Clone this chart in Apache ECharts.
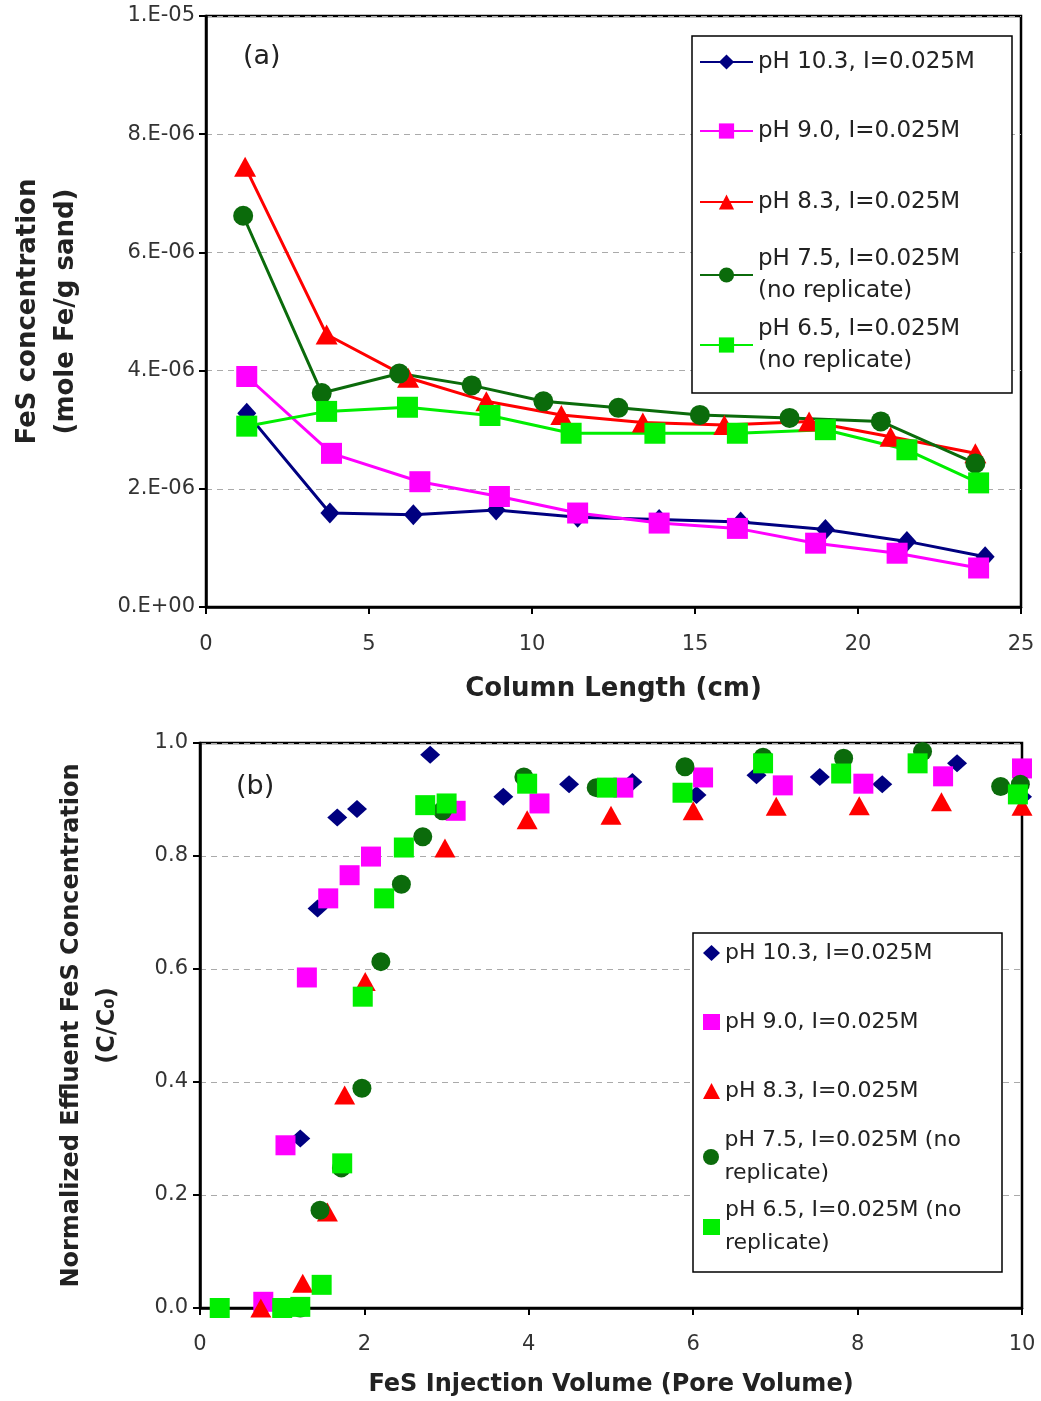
<!DOCTYPE html>
<html>
<head>
<meta charset="utf-8">
<title>FeS column profiles and breakthrough</title>
<script src="https://cdn.jsdelivr.net/npm/echarts@6/dist/echarts.min.js"></script>
<style>
  html, body { margin: 0; padding: 0; background: #fff; }
  #chart { width: 1041px; height: 1401px; }
</style>
</head>
<body>
<div id="chart"></div>
<script>
// ---- panel (a): retained FeS along the column ----
// column length (cm) / FeS concentration (mole Fe/g sand)
const lenPH103 = [1.25, 3.8, 6.36, 8.9, 11.4, 13.9, 16.4, 19.0, 21.5, 23.9]
const fesPH103 = [3.28e-6, 1.59e-6, 1.56e-6, 1.64e-6, 1.52e-6, 1.48e-6, 1.44e-6, 1.31e-6, 1.11e-6, 0.85e-6]
const lenPH90 = [1.25, 3.85, 6.56, 9.0, 11.4, 13.9, 16.3, 18.7, 21.2, 23.7]
const fesPH90 = [3.9e-6, 2.6e-6, 2.12e-6, 1.87e-6, 1.59e-6, 1.42e-6, 1.33e-6, 1.08e-6, 0.91e-6, 0.66e-6]
const lenPH83 = [1.2, 3.7, 6.2, 8.6, 10.9, 13.4, 15.9, 18.5, 21.0, 23.6]
const fesPH83 = [7.45e-6, 4.61e-6, 3.88e-6, 3.48e-6, 3.25e-6, 3.12e-6, 3.08e-6, 3.14e-6, 2.88e-6, 2.6e-6]
const lenPH75 = [1.14, 3.55, 5.93, 8.15, 10.35, 12.65, 15.15, 17.9, 20.7, 23.6]
const fesPH75 = [6.62e-6, 3.62e-6, 3.95e-6, 3.75e-6, 3.48e-6, 3.37e-6, 3.25e-6, 3.2e-6, 3.14e-6, 2.43e-6]
const lenPH65 = [1.25, 3.7, 6.18, 8.71, 11.2, 13.77, 16.3, 19.0, 21.5, 23.7]
const fesPH65 = [3.06e-6, 3.31e-6, 3.38e-6, 3.24e-6, 2.94e-6, 2.94e-6, 2.94e-6, 3.0e-6, 2.66e-6, 2.1e-6]

// ---- panel (b): effluent breakthrough ----
// injected pore volumes / normalized effluent concentration C/C0
const pvPH103 = [0.97, 1.22, 1.43, 1.67, 1.91, 2.8, 3.69, 4.49, 5.26, 6.04, 6.77, 7.54, 8.3, 9.21, 10.0]
const cPH103 = [0.0, 0.3, 0.707, 0.868, 0.883, 0.979, 0.905, 0.927, 0.931, 0.908, 0.943, 0.94, 0.927, 0.964, 0.905]
const pvPH90 = [0.77, 1.04, 1.3, 1.56, 1.82, 2.08, 3.11, 4.13, 5.15, 6.12, 7.09, 8.07, 9.04, 10.0]
const cPH90 = [0.011, 0.288, 0.585, 0.725, 0.766, 0.799, 0.88, 0.893, 0.921, 0.939, 0.925, 0.928, 0.941, 0.955]
const pvPH83 = [0.74, 1.25, 1.55, 1.76, 2.01, 2.98, 3.98, 5.0, 6.0, 7.01, 8.02, 9.02, 10.0]
const cPH83 = [0.0, 0.044, 0.17, 0.377, 0.578, 0.814, 0.864, 0.872, 0.88, 0.888, 0.889, 0.896, 0.888]
const pvPH75 = [0.24, 1.0, 1.22, 1.46, 1.72, 1.97, 2.2, 2.45, 2.71, 2.95, 3.94, 4.82, 5.9, 6.85, 7.83, 8.79, 9.74, 9.98]
const cPH75 = [0.0, 0.0, 0.0, 0.173, 0.248, 0.389, 0.613, 0.75, 0.834, 0.88, 0.94, 0.921, 0.958, 0.975, 0.973, 0.985, 0.923, 0.927]
const pvPH65 = [0.24, 1.0, 1.22, 1.48, 1.73, 1.98, 2.24, 2.48, 2.74, 3.0, 3.98, 4.95, 5.87, 6.85, 7.8, 8.73, 9.95]
const cPH65 = [0.0, 0.0, 0.002, 0.041, 0.256, 0.551, 0.725, 0.815, 0.89, 0.893, 0.928, 0.921, 0.912, 0.964, 0.946, 0.964, 0.909]

// tick labels
const yTicksA = ['0.E+00', '2.E-06', '4.E-06', '6.E-06', '8.E-06', '1.E-05']
const yTicksB = ['0.0', '0.2', '0.4', '0.6', '0.8', '1.0']

const legendA = [
  'pH 10.3, I=0.025M',
  'pH 9.0, I=0.025M',
  'pH 8.3, I=0.025M',
  'pH 7.5, I=0.025M\n(no replicate)',
  'pH 6.5, I=0.025M\n(no replicate)'
]
const legendB = [
  'pH 10.3, I=0.025M',
  'pH 9.0, I=0.025M',
  'pH 8.3, I=0.025M',
  'pH 7.5, I=0.025M (no\nreplicate)',
  'pH 6.5, I=0.025M (no\nreplicate)'
]

const colors = ['#000080', '#ff00ff', '#ff0000', '#0b6b0b', '#00ee00']
const symbols = ['diamond', 'rect', 'triangle', 'circle', 'rect']

const zip = (xs, ys) => xs.map((x, i) => [x, ys[i]])

const profileA = [
  zip(lenPH103, fesPH103), zip(lenPH90, fesPH90), zip(lenPH83, fesPH83),
  zip(lenPH75, fesPH75), zip(lenPH65, fesPH65)
]
const profileB = [
  zip(pvPH103, cPH103), zip(pvPH90, cPH90), zip(pvPH83, cPH83),
  zip(pvPH75, cPH75), zip(pvPH65, cPH65)
]

const font = 'DejaVu Sans'
const sizesA = [[19, 21], 21, [22, 20], 20, 21]
const sizesB = [[20, 18], 20, [21, 19], 19, 20]

const axisLine = { lineStyle: { color: '#000', width: 2.5 } }
const axisTick = { length: 7, lineStyle: { color: '#000', width: 2 } }
const splitLine = { show: true, lineStyle: { color: '#aaa', width: 1, type: [6, 5] } }

const series = []
profileA.forEach((data, i) => {
  series.push({
    name: 'a' + i,
    type: 'line',
    xAxisIndex: 0,
    yAxisIndex: 0,
    data: data,
    symbol: symbols[i],
    symbolSize: sizesA[i],
    showAllSymbol: true,
    color: colors[i],
    lineStyle: { width: 3, color: colors[i] },
    itemStyle: { color: colors[i] },
    animation: false
  })
})
profileB.forEach((data, i) => {
  series.push({
    name: 'b' + i,
    type: 'scatter',
    xAxisIndex: 1,
    yAxisIndex: 1,
    data: data,
    symbol: symbols[i],
    symbolSize: sizesB[i],
    clip: false,
    itemStyle: { color: colors[i], opacity: 1 },
    animation: false
  })
})

// one legend per entry, so every entry sits on its own row like the original
const legendTextA = { fontFamily: font, fontSize: 23, color: '#222', lineHeight: 32 }
const legendTextB = { fontFamily: font, fontSize: 22, color: '#222', lineHeight: 33 }
const iconRowsA = [62, 131, 202, 275, 345]
const iconRowsB = [953, 1022, 1091, 1157, 1227]
const legends = []
legendA.forEach((label, i) => {
  const twoLines = label.indexOf('\n') >= 0
  legends.push({
    data: ['a' + i],
    left: 699,
    top: twoLines ? iconRowsA[i] - 48 : iconRowsA[i] - 16,
    padding: 0,
    itemWidth: 53,
    itemHeight: 19,
    selectedMode: false,
    formatter: () => label,
    textStyle: Object.assign({}, legendTextA, twoLines ? { padding: [32, 0, 0, 0] } : {})
  })
})
legendB.forEach((label, i) => {
  const twoLines = label.indexOf('\n') >= 0
  legends.push({
    data: ['b' + i],
    left: 703,
    top: twoLines ? iconRowsB[i] - 49.5 : iconRowsB[i] - 16.5,
    padding: 0,
    itemWidth: 17,
    itemHeight: 16,
    selectedMode: false,
    formatter: () => label,
    textStyle: Object.assign({}, legendTextB, twoLines ? { padding: [33, 0, 0, 0] } : {})
  })
})

const option = {
  backgroundColor: '#fff',
  animation: false,
  title: [
    { text: '(a)', left: 238, top: 38, textStyle: { fontFamily: font, fontSize: 27, fontWeight: 'normal', color: '#222' } },
    { text: '(b)', left: 231, top: 768, textStyle: { fontFamily: font, fontSize: 27, fontWeight: 'normal', color: '#222' } }
  ],
  legend: legends,
  graphic: [
    { type: 'rect', z: 3, shape: { x: 692, y: 36, width: 320, height: 357 }, style: { fill: '#fff', stroke: '#000', lineWidth: 1.5 } },
    { type: 'rect', z: 3, shape: { x: 693, y: 933, width: 309, height: 339 }, style: { fill: '#fff', stroke: '#000', lineWidth: 1.5 } }
  ],
  grid: [
    { left: 206, top: 16, width: 815, height: 591, show: true, borderColor: '#000', borderWidth: 2.5, outerBoundsMode: 'none' },
    { left: 200, top: 743, width: 822, height: 565, show: true, borderColor: '#000', borderWidth: 2.5, outerBoundsMode: 'none' }
  ],
  xAxis: [
    {
      gridIndex: 0, type: 'value', min: 0, max: 25, interval: 5,
      name: 'Column Length (cm)', nameLocation: 'middle', nameGap: 66,
      nameTextStyle: { fontFamily: font, fontSize: 26, fontWeight: 'bold', color: '#222', lineHeight: 32 },
      axisLine: axisLine, axisTick: axisTick, splitLine: { show: false },
      axisLabel: { margin: 27, fontFamily: font, fontSize: 21, color: '#333' }
    },
    {
      gridIndex: 1, type: 'value', min: 0, max: 10, interval: 2,
      name: 'FeS Injection Volume (Pore Volume)', nameLocation: 'middle', nameGap: 62,
      nameTextStyle: { fontFamily: font, fontSize: 24, fontWeight: 'bold', color: '#222', lineHeight: 30 },
      axisLine: axisLine, axisTick: axisTick, splitLine: { show: false },
      axisLabel: { margin: 26, fontFamily: font, fontSize: 21, color: '#333' }
    }
  ],
  yAxis: [
    {
      gridIndex: 0, type: 'value', min: 0, max: 1e-5, interval: 2e-6,
      name: 'FeS concentration\n(mole Fe/g sand)', nameLocation: 'middle', nameRotate: 90, nameGap: 121,
      nameTextStyle: { fontFamily: font, fontSize: 26, fontWeight: 'bold', color: '#222', lineHeight: 38 },
      axisLine: axisLine, axisTick: axisTick, splitLine: splitLine,
      axisLabel: { margin: 11, fontFamily: font, fontSize: 21, color: '#333', formatter: (v, i) => yTicksA[i] }
    },
    {
      gridIndex: 1, type: 'value', min: 0, max: 1, interval: 0.2,
      name: 'Normalized Effluent FeS Concentration\n(C/C\u2080)', nameLocation: 'middle', nameRotate: 90, nameGap: 74,
      nameTextStyle: { fontFamily: font, fontSize: 24, fontWeight: 'bold', color: '#222', lineHeight: 36 },
      axisLine: axisLine, axisTick: axisTick, splitLine: splitLine,
      axisLabel: { margin: 12, fontFamily: font, fontSize: 21, color: '#333', formatter: (v, i) => yTicksB[i] }
    }
  ],
  series: series
}

const chart = echarts.init(document.getElementById('chart'))
chart.setOption(option)
</script>
</body>
</html>
